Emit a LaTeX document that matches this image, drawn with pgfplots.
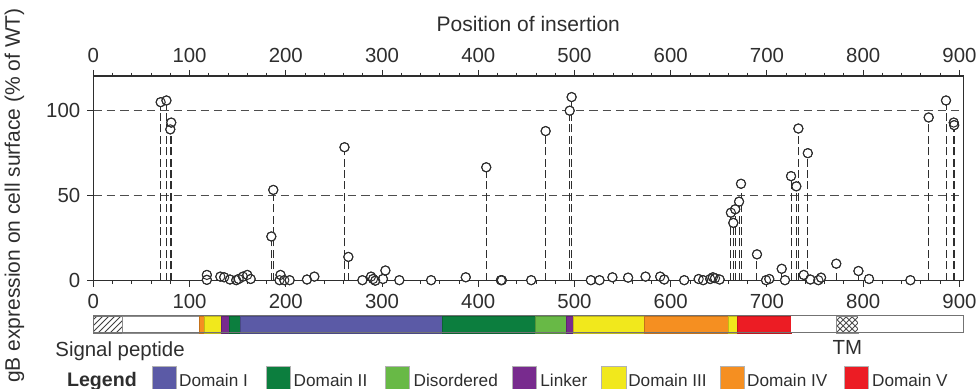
\documentclass[border=0pt]{standalone}
\usepackage{pgfplots}
\pgfplotsset{compat=1.18}
\usepackage{pgfplotstable}
\usepackage{fontspec}
\setmainfont{Liberation Sans}
\usetikzlibrary{patterns}
\definecolor{dI}{HTML}{5B5AA6}
\definecolor{dII}{HTML}{0C7E3E}
\definecolor{dis}{HTML}{68B946}
\definecolor{lnk}{HTML}{782B8E}
\definecolor{dIII}{HTML}{F1E81C}
\definecolor{dIV}{HTML}{F58F21}
\definecolor{dV}{HTML}{EC1C24}
\definecolor{ink}{HTML}{2E2E2E}

\pgfplotstableread{
x y
70 105
76 106
80 89
81 93
118 3.4
118 0.5
132 2.4
136 2
142 0.7
148.5 0.3
151 1
155.5 2.4
160 3.4
163.5 1
185 26
187 53.4
193.5 0.3
194.5 3.4
198.5 0.3
204 0.3
222 0.7
229.7 2.4
261 78.5
265 14
279.6 0.3
288.6 2.4
290.7 1
293 0
301 1
303.5 6
318 0.3
351 0.3
387 2
408.3 66.7
423.5 0.3
424.5 0.3
455 0.3
470 88
495 100
497 108
517 0.3
526 0.3
539.4 2
555.7 1.8
573.8 2.4
589 2.4
593.2 0.7
614 0.3
629 1
633.7 0.3
641 1
643.8 2
646 1.5
650.8 0.7
662.5 40
665 34
667 42
671 46.5
673 57
689.6 15.5
699 0.3
702.4 1
715.3 7
718.7 0.3
725 61.5
730.5 55.5
732.6 89.5
738.2 3.4
742.4 75
745 0.7
753.4 0.3
756.2 1.8
772 10
795 5.7
806 1
849 0.3
868 96
886 106
894 93
894.5 91.5
}\insdata

\begin{document}
\begin{tikzpicture}[font=\fontsize{10}{12}\selectfont, text=ink]
\useasboundingbox (-46.65pt,-54.15pt) rectangle (441.85pt,140.35pt);

% main axis
\begin{axis}[
  at={(0pt,0pt)}, anchor=south west,
  scale only axis, width=435pt, height=102.35pt,
  xmin=0, xmax=904, ymin=0, ymax=120.4,
  axis line style={ink, line width=0.6pt},
  xtick={0,100,...,900}, minor x tick num=4,
  ytick={0,50,100},
  xtick pos=lower, ytick pos=left,
  tick align=outside,
  major tick length=3pt, minor tick length=1.7pt,
  every tick/.style={ink, line width=0.5pt},
  ymajorgrids,
  grid style={ink!85, line width=0.5pt, dash pattern=on 4.2pt off 2.5pt},
  tick label style={font=\fontsize{10.2}{12}\selectfont, text=ink},
  /pgf/number format/assume math mode=true,
  clip=false,
]
\addplot[ycomb, ink, line width=0.5pt, dash pattern=on 4pt off 1.7pt, mark=none] table {\insdata};
\addplot[only marks, mark=*, mark size=2.3pt, mark options={draw=none, fill=white, solid}] table {\insdata};
\addplot[only marks, mark=o, mark size=2.3pt, mark options={draw=ink, line width=0.5pt, solid}] table {\insdata};
\end{axis}

% top axis with labels
\begin{axis}[
  at={(0pt,0pt)}, anchor=south west,
  scale only axis, width=435pt, height=102.35pt,
  xmin=0, xmax=904, ymin=0, ymax=120.4,
  axis x line*=top, axis y line=none,
  axis line style={ink, line width=0.6pt},
  xtick={0,100,...,900}, minor x tick num=4,
  tick align=outside,
  major tick length=3pt, minor tick length=1.7pt,
  every tick/.style={ink, line width=0.5pt},
  tick label style={font=\fontsize{10.2}{12}\selectfont, text=ink},
  /pgf/number format/assume math mode=true,
]
\end{axis}

% domain bar
\begin{axis}[
  at={(0pt,-26.15pt)}, anchor=south west,
  scale only axis, width=435pt, height=8.5pt,
  xmin=0, xmax=904, ymin=0, ymax=1,
  hide axis, clip=false,
]
\addplot[draw=black!55, line width=0.4pt, pattern=north east lines, pattern color=black!75] coordinates {(0,0) (0,1) (30,1) (30,0)} -- cycle;
\addplot[draw=black!45, line width=0.4pt, fill=white] coordinates {(30,0) (30,1) (110,1) (110,0)} -- cycle;
\addplot[draw=dIV!80!black, line width=0.3pt, fill=dIV] coordinates {(110,0) (110,1) (115.5,1) (115.5,0)} -- cycle;
\addplot[draw=dIII!80!black, line width=0.3pt, fill=dIII] coordinates {(115.5,0) (115.5,1) (133.5,1) (133.5,0)} -- cycle;
\addplot[draw=lnk!80!black, line width=0.3pt, fill=lnk] coordinates {(133.5,0) (133.5,1) (141,1) (141,0)} -- cycle;
\addplot[draw=dII!80!black, line width=0.3pt, fill=dII] coordinates {(141,0) (141,1) (153,1) (153,0)} -- cycle;
\addplot[draw=dI!80!black, line width=0.3pt, fill=dI] coordinates {(153,0) (153,1) (363,1) (363,0)} -- cycle;
\addplot[draw=dII!80!black, line width=0.3pt, fill=dII] coordinates {(363,0) (363,1) (459,1) (459,0)} -- cycle;
\addplot[draw=dis!80!black, line width=0.3pt, fill=dis] coordinates {(459,0) (459,1) (491,1) (491,0)} -- cycle;
\addplot[draw=lnk!80!black, line width=0.3pt, fill=lnk] coordinates {(491,0) (491,1) (499,1) (499,0)} -- cycle;
\addplot[draw=dIII!80!black, line width=0.3pt, fill=dIII] coordinates {(499,0) (499,1) (572,1) (572,0)} -- cycle;
\addplot[draw=dIV!80!black, line width=0.3pt, fill=dIV] coordinates {(572,0) (572,1) (659.5,1) (659.5,0)} -- cycle;
\addplot[draw=dIII!80!black, line width=0.3pt, fill=dIII] coordinates {(659.5,0) (659.5,1) (669,1) (669,0)} -- cycle;
\addplot[draw=dV!80!black, line width=0.3pt, fill=dV] coordinates {(669,0) (669,1) (725,1) (725,0)} -- cycle;
\addplot[draw=none, fill=white] coordinates {(725,0) (725,1) (772,1) (772,0)} -- cycle;
\addplot[draw=black!45, line width=0.3pt, pattern=crosshatch, pattern color=black!70] coordinates {(772,0) (772,1) (795,1) (795,0)} -- cycle;
\addplot[draw=none, fill=white] coordinates {(795,0) (795,1) (904,1) (904,0)} -- cycle;
\addplot[draw=black!55, line width=0.5pt] coordinates {(0,0) (0,1) (904,1) (904,0)} -- cycle;
\end{axis}

% titles and labels
\node[anchor=base, font=\fontsize{10.5}{12}\selectfont] at (217.5pt,124.5pt) {Position of insertion};
\node[rotate=90, anchor=center, font=\fontsize{10.5}{12}\selectfont] at (-39.4pt,42.6pt) {gB expression on cell surface (\% of WT)};
\node[anchor=base west, inner sep=0pt, font=\fontsize{10.2}{12}\selectfont] at (-19.15pt,-38pt) {Signal peptide};
\node[anchor=base, inner sep=0pt, font=\fontsize{10.2}{12}\selectfont] at (377pt,-36.65pt) {TM};

% legend
\node[anchor=base west, inner sep=0pt, font=\fontsize{9.8}{12}\selectfont\bfseries] at (-13.3pt,-53pt) {Legend};
\fill[dI, draw=black!30, line width=0.3pt] (29.7pt,-43pt) rectangle (41.7pt,-54.15pt);
\node[anchor=base west, inner sep=0pt, font=\fontsize{8.6}{10}\selectfont] at (42.7pt,-53pt) {Domain I};
\fill[dII, draw=black!30, line width=0.3pt] (86.7pt,-43pt) rectangle (98.7pt,-54.15pt);
\node[anchor=base west, inner sep=0pt, font=\fontsize{8.6}{10}\selectfont] at (100pt,-53pt) {Domain II};
\fill[dis, draw=black!30, line width=0.3pt] (145.85pt,-43pt) rectangle (158pt,-54.15pt);
\node[anchor=base west, inner sep=0pt, font=\fontsize{8.6}{10}\selectfont] at (160pt,-53pt) {Disordered};
\fill[lnk, draw=black!30, line width=0.3pt] (209.7pt,-43pt) rectangle (221.7pt,-54.15pt);
\node[anchor=base west, inner sep=0pt, font=\fontsize{8.6}{10}\selectfont] at (223.35pt,-53pt) {Linker};
\fill[dIII, draw=black!30, line width=0.3pt] (254.2pt,-43pt) rectangle (266.35pt,-54.15pt);
\node[anchor=base west, inner sep=0pt, font=\fontsize{8.6}{10}\selectfont] at (267.3pt,-53pt) {Domain III};
\fill[dIV, draw=black!30, line width=0.3pt] (313.35pt,-43pt) rectangle (325.35pt,-54.15pt);
\node[anchor=base west, inner sep=0pt, font=\fontsize{8.6}{10}\selectfont] at (326.7pt,-53pt) {Domain IV};
\fill[dV, draw=black!30, line width=0.3pt] (375.35pt,-43pt) rectangle (387.5pt,-54.15pt);
\node[anchor=base west, inner sep=0pt, font=\fontsize{8.6}{10}\selectfont] at (389.2pt,-53pt) {Domain V};
\end{tikzpicture}
\end{document}
